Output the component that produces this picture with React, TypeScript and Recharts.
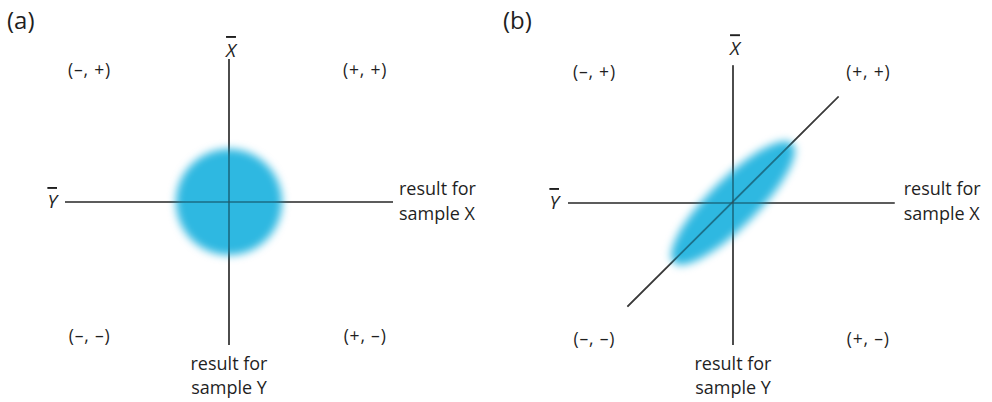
import { ScatterChart, Scatter, XAxis, YAxis } from "recharts";

// shared text
const panelTags = ["(a)", "(b)"];
const quadrantLabels = ["(–, +)", "(+, +)", "(–, –)", "(+, –)"];
const meanLabels = ["X", "Y"];
const xTitle = ["result for", "sample X"];
const yTitle = ["result for", "sample Y"];

// panel (a)
const aQuadX = [-0.85, 0.83, -0.85, 0.83];
const aQuadY = [0.92, 0.92, -0.94, -0.94];
const aVertY = [-1, 1];
const aHorizX = [-1, 1];

// panel (b)
const bQuadX = [-0.84, 0.82, -0.84, 0.82];
const bQuadY = [0.92, 0.92, -0.96, -0.96];
const bVertY = [-1, 0.97];
const bHorizX = [-1, 0.98];
const bDiagX = [-0.64, 0.64];
const bDiagY = [-0.73, 0.75];

const W = 496;
const H = 402;
const lineColor = "#3a3a3a";
const textColor = "#1f1f1f";
const font = "'Open Sans', sans-serif";

const none = () => <g />;

type PanelProps = {
  left: number;
  margin: { top: number; right: number; bottom: number; left: number };
  quadX: number[];
  quadY: number[];
  vertY: number[];
  horizX: number[];
  diagX?: number[];
  diagY?: number[];
  blob: { rx: number; ry: number; angle: number; blur: number };
  off: { xbarDy: number; ybarDx: number; titleXDx: number; titleXDy: number };
  tag: string;
  id: string;
};

const Panel = (p: PanelProps) => {
  const quads = quadrantLabels.map((label, i) => ({ x: p.quadX[i], y: p.quadY[i], label }));
  const vert = p.vertY.map((y) => ({ x: 0, y }));
  const horiz = p.horizX.map((x) => ({ x, y: 0 }));
  const diag = p.diagX ? p.diagX.map((x, i) => ({ x, y: p.diagY![i] })) : [];

  const quadShape = (s: any) => (
    <text x={s.cx} y={s.cy + 6} textAnchor="middle" fontFamily={font} fontSize={17.5}
      letterSpacing={0.8} fill={textColor}>
      {s.payload.label}
    </text>
  );

  const blobShape = (s: any) => (
    <g>
      <defs>
        <filter id={p.id} x="-60%" y="-60%" width="220%" height="220%">
          <feGaussianBlur stdDeviation={p.blob.blur} />
        </filter>
      </defs>
      <ellipse
        cx={s.cx}
        cy={s.cy}
        rx={p.blob.rx}
        ry={p.blob.ry}
        transform={`rotate(${p.blob.angle} ${s.cx} ${s.cy})`}
        fill="#00a8db"
        fillOpacity={0.82}
        filter={`url(#${p.id})`}
      />
    </g>
  );

  // labels at the ends of the axis lines
  const vertShape = (s: any) => {
    if (s.payload.y > 0) {
      return (
        <text x={s.cx + 2} y={s.cy + p.off.xbarDy} textAnchor="middle" fontFamily={font} fontSize={19}
          fontStyle="italic" fill={textColor} style={{ textDecoration: "overline" }}>
          {meanLabels[0]}
        </text>
      );
    }
    return (
      <text x={s.cx} y={s.cy + 25} textAnchor="middle" fontFamily={font} fontSize={18} fill={textColor}>
        <tspan x={s.cx}>{yTitle[0]}</tspan>
        <tspan x={s.cx} dy={24}>{yTitle[1]}</tspan>
      </text>
    );
  };

  const horizShape = (s: any) => {
    if (s.payload.x < 0) {
      return (
        <text x={s.cx + p.off.ybarDx} y={s.cy + 6} textAnchor="end" fontFamily={font} fontSize={19}
          fontStyle="italic" fill={textColor} style={{ textDecoration: "overline" }}>
          {meanLabels[1]}
        </text>
      );
    }
    const x = s.cx + p.off.titleXDx;
    return (
      <text x={x} y={s.cy + p.off.titleXDy} textAnchor="start" fontFamily={font} fontSize={18} fill={textColor}>
        <tspan x={x}>{xTitle[0]}</tspan>
        <tspan x={x} dy={25}>{xTitle[1]}</tspan>
      </text>
    );
  };

  const lineSeries = (data: { x: number; y: number }[], opacity: number) => (
    <Scatter
      data={data}
      line={{ stroke: lineColor, strokeWidth: 1.7, strokeOpacity: opacity }}
      lineType="joint"
      shape={none}
      isAnimationActive={false}
    />
  );

  return (
    <div style={{ position: "absolute", left: p.left, top: 0, width: W, height: H }}>
      <div style={{ position: "absolute", left: 7, top: 3, fontFamily: font, fontSize: 24, color: textColor }}>
        {p.tag}
      </div>
      <ScatterChart width={W} height={H} margin={p.margin}>
        <XAxis type="number" dataKey="x" domain={[-1, 1]} hide />
        <YAxis type="number" dataKey="y" domain={[-1, 1]} hide />
        {lineSeries(vert, 1)}
        {lineSeries(horiz, 1)}
        {diag.length > 0 && lineSeries(diag, 1)}
        <Scatter data={[{ x: 0, y: 0 }]} shape={blobShape} isAnimationActive={false} />
        {lineSeries(vert, 0.4)}
        {lineSeries(horiz, 0.4)}
        {diag.length > 0 && lineSeries(diag, 0.4)}
        <Scatter data={quads} shape={quadShape} isAnimationActive={false} />
        <Scatter data={vert} shape={vertShape} isAnimationActive={false} />
        <Scatter data={horiz} shape={horizShape} isAnimationActive={false} />
      </ScatterChart>
    </div>
  );
};

export default function App() {
  return (
    <div style={{ position: "absolute", left: 0, top: 0, width: 992, height: H, background: "#fff" }}>
      <Panel
        left={0}
        margin={{ top: 59, right: 103, bottom: 57, left: 65 }}
        quadX={aQuadX}
        quadY={aQuadY}
        vertY={aVertY}
        horizX={aHorizX}
        blob={{ rx: 53, ry: 53, angle: 0, blur: 4.5 }}
        off={{ xbarDy: -2, ybarDx: -8, titleXDx: 6, titleXDy: -7 }}
        tag={panelTags[0]}
        id="blurA"
      />
      <Panel
        left={496}
        margin={{ top: 61, right: 94, bottom: 57, left: 72 }}
        quadX={bQuadX}
        quadY={bQuadY}
        vertY={bVertY}
        horizX={bHorizX}
        diagX={bDiagX}
        diagY={bDiagY}
        blob={{ rx: 84, ry: 24, angle: -45, blur: 4 }}
        off={{ xbarDy: -10, ybarDx: -9, titleXDx: 9, titleXDy: -8 }}
        tag={panelTags[1]}
        id="blurB"
      />
    </div>
  );
}
